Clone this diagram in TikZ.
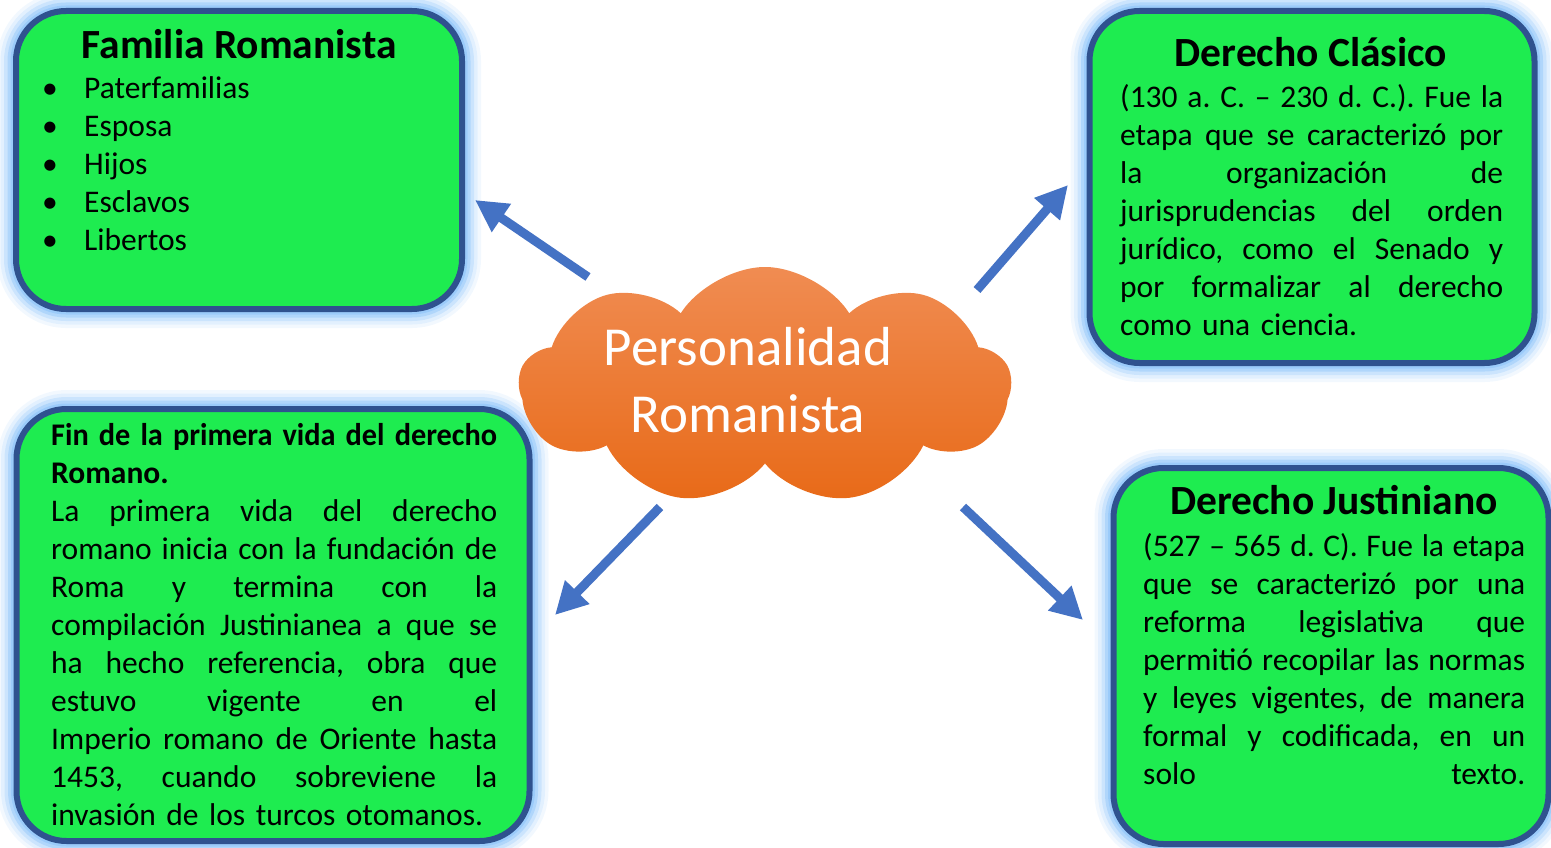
\documentclass[tikz,border=0pt]{standalone}
\usepackage{fontspec}
\usepackage{graphicx}
\setmainfont{Carlito}
\usetikzlibrary{arrows.meta,positioning,shapes.symbols}
\definecolor{boxgreen}{RGB}{30,236,80}
\definecolor{boxline}{RGB}{47,82,143}
\definecolor{glowblue}{RGB}{150,200,250}
\definecolor{arrowblue}{RGB}{68,114,196}
\definecolor{cloudtop}{RGB}{240,140,82}
\definecolor{cloudbot}{RGB}{232,106,24}
\def\jw{383pt}
\newcommand{\jl}[1]{\makebox[\jw][s]{\spaceskip=0pt\xspaceskip=0pt #1}}

\begin{document}
\begin{tikzpicture}[x=1pt, y=-1pt,
 info box/.style={rectangle, rounded corners=50pt, fill=boxgreen, draw=boxline, line width=6pt,
   preaction={draw=glowblue, line width=38pt, opacity=0.12},
   preaction={draw=glowblue, line width=31pt, opacity=0.18},
   preaction={draw=glowblue, line width=24pt, opacity=0.3},
   preaction={draw=glowblue, line width=17pt, opacity=0.5},
   preaction={draw=glowblue, line width=11pt, opacity=0.8}},
 box title/.style={font=\fontsize{41.5}{50}\selectfont\bfseries, inner sep=0pt, anchor=base},
 box text/.style={font=\fontsize{31.5}{38}\selectfont\frenchspacing, inner sep=0pt, align=left,
   anchor=base west, text width=#1, execute at begin node={\def\jw{#1}}},
 box text/.default=380pt,
 link/.style={draw=arrowblue, line width=9pt, -{Triangle[length=32pt,width=32pt]}}]
\useasboundingbox (0,0) rectangle (1551,848);
\clip (0,0) rectangle (1551,848);
% boxes
\node[info box, minimum width=446pt, minimum height=298pt] (fam) at (239,160) {};
\node[info box, minimum width=445pt, minimum height=352pt] (clasico) at (1312,187) {};
\node[info box, minimum width=513pt, minimum height=432pt] (fin) at (273,625) {};
\node[info box, minimum width=435pt, minimum height=376pt] (justi) at (1331,656) {};
% center cloud
\node[cloud, cloud puffs=9, cloud puff arc=115, aspect=2.07, minimum width=492pt, minimum height=238pt, inner sep=0pt,
  top color=cloudtop, bottom color=cloudbot] (cloud) at (765,386) {};
\node[font=\fontsize{55}{67}\selectfont, text=white, text width=420pt, align=center, inner sep=0pt, anchor=base]
  (ctitle) at (748,365) {Personalidad\\Romanista};
% texts
\node[box title] (famtitle) at (239,59) {Familia Romanista};
\node[box text] (famlist) at (42,99)
 {\makebox[42pt][l]{\textbullet}Paterfamilias\\
  \makebox[42pt][l]{\textbullet}Esposa\\
  \makebox[42pt][l]{\textbullet}Hijos\\
  \makebox[42pt][l]{\textbullet}Esclavos\\
  \makebox[42pt][l]{\textbullet}Libertos};
\node[box title] (clastitle) at (1311,67) {Derecho Clásico};
\node[box text=383pt] (clastext) at (1120,108)
 {\jl{(130 a. C. – 230 d. C.). Fue la}\\
  \jl{etapa que se caracterizó por}\\
  \jl{la organización de}\\
  \jl{jurisprudencias del orden}\\
  \jl{jurídico, como el Senado y}\\
  \jl{por formalizar al derecho}\\
  como una ciencia.};
\node[box text=446pt] (fintext) at (51,445)
 {\scalebox{0.962}[1]{\bfseries Fin de la primera vida del derecho}\\
  {\bfseries Romano.}\\
  \jl{La primera vida del derecho}\\
  \jl{romano inicia con la fundación de}\\
  \jl{Roma y termina con la}\\
  \jl{compilación Justinianea a que se}\\
  \jl{ha hecho referencia, obra que}\\
  \jl{estuvo vigente en el}\\
  \jl{Imperio romano de Oriente hasta}\\
  \jl{1453, cuando sobreviene la}\\
  invasión de los turcos otomanos.};
\node[box title] (justitle) at (1334,514) {Derecho Justiniano};
\node[box text=382pt] (justext) at (1143,556)
 {\jl{(527 – 565 d. C). Fue la etapa}\\
  \jl{que se caracterizó por una}\\
  \jl{reforma legislativa que}\\
  \jl{permitió recopilar las normas}\\
  \jl{y leyes vigentes, de manera}\\
  \jl{formal y codificada, en un}\\
  \jl{solo texto.}};
% arrows
\coordinate (fam tail) at (588,277);
\coordinate (fam tip) at (475,200);
\coordinate (clas tail) at (977,290);
\coordinate (clas tip) at (1068,185);
\coordinate (fin tail) at (660,507);
\coordinate (fin tip) at (555,615);
\coordinate (justi tail) at (963,507);
\coordinate (justi tip) at (1083,620);
\draw[link] (fam tail) -- (fam tip);
\draw[link] (clas tail) -- (clas tip);
\draw[link] (fin tail) -- (fin tip);
\draw[link] (justi tail) -- (justi tip);
\end{tikzpicture}
\end{document}
